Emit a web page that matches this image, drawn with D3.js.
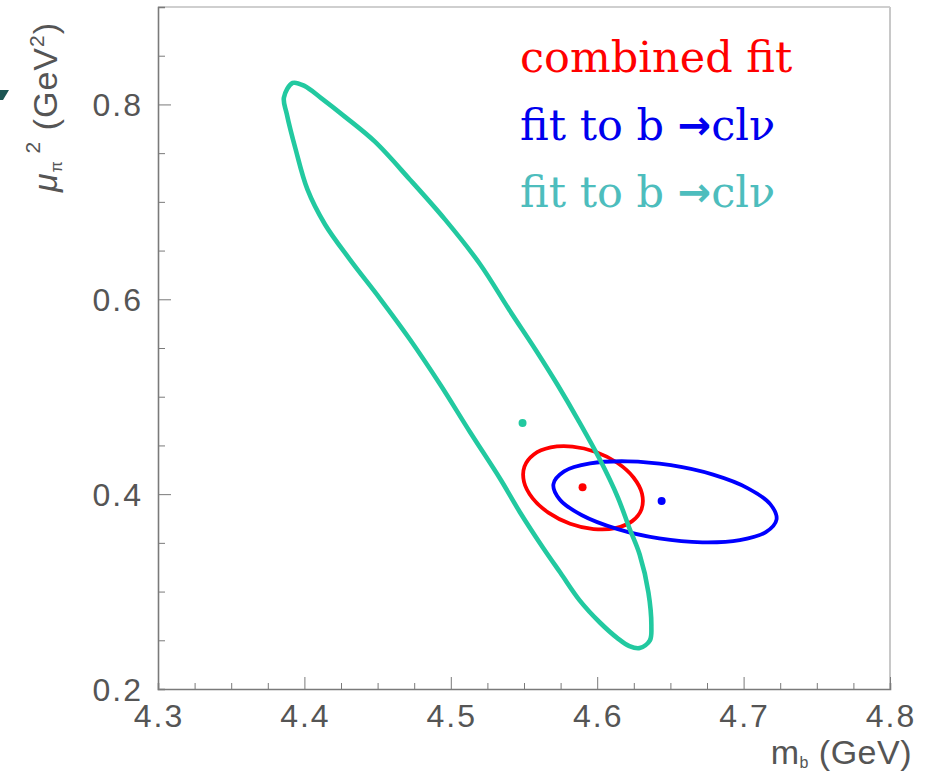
<!DOCTYPE html>
<html>
<head>
<meta charset="utf-8">
<script src="https://cdn.jsdelivr.net/npm/d3@7"></script>
<style>
  html, body { margin: 0; padding: 0; background: #fff; }
  svg { display: block; }
</style>
</head>
<body>
<svg id="chart" width="930" height="773"></svg>
<script>
// Axis ranges and tick labels
const xDomain = [4.3, 4.8];
const yDomain = [0.2, 0.9];
const xTickLabels = [4.3, 4.4, 4.5, 4.6, 4.7, 4.8];
const yTickLabels = [0.2, 0.4, 0.6, 0.8];

// Contour of the fit to b -> c l nu (teal), as [m_b, mu_pi^2]
const tealContour = [
  [4.392, 0.822], [4.400, 0.819], [4.411, 0.807], [4.428, 0.787], [4.448, 0.762],
  [4.472, 0.723], [4.496, 0.682], [4.520, 0.636], [4.540, 0.589], [4.558, 0.548],
  [4.573, 0.512], [4.587, 0.476], [4.602, 0.435], [4.614, 0.397], [4.622, 0.365],
  [4.629, 0.338], [4.635, 0.299], [4.637, 0.264], [4.636, 0.250], [4.629, 0.242],
  [4.622, 0.244], [4.614, 0.252], [4.602, 0.268], [4.588, 0.291], [4.575, 0.319],
  [4.563, 0.345], [4.547, 0.382], [4.534, 0.415], [4.513, 0.464], [4.493, 0.512],
  [4.472, 0.559], [4.452, 0.600], [4.431, 0.641], [4.414, 0.677], [4.402, 0.713],
  [4.394, 0.754], [4.388, 0.790], [4.386, 0.807]
];
const tealCenter = [4.549, 0.473];

// Contour of the fit to b -> c l nu (blue)
const blueContour = [
  [4.7225, 0.3740], [4.7152, 0.3610], [4.6974, 0.3528], [4.6718, 0.3505],
  [4.6423, 0.3545], [4.6135, 0.3643], [4.5896, 0.3783], [4.5744, 0.3945],
  [4.5701, 0.4102], [4.5774, 0.4233], [4.5952, 0.4315], [4.6208, 0.4337],
  [4.6503, 0.4297], [4.6792, 0.4200], [4.7030, 0.4060], [4.7182, 0.3898]
];
const blueCenter = [4.644, 0.393];

// Contour of the combined fit (red)
const redContour = [
  [4.6303, 0.3847], [4.6239, 0.3723], [4.6124, 0.3651], [4.5975, 0.3642],
  [4.5815, 0.3697], [4.5669, 0.3808], [4.5558, 0.3959], [4.5500, 0.4126],
  [4.5503, 0.4283], [4.5567, 0.4407], [4.5682, 0.4479], [4.5831, 0.4488],
  [4.5991, 0.4433], [4.6137, 0.4322], [4.6248, 0.4171], [4.6306, 0.4005]
];
const redCenter = [4.590, 0.407];

// Legend entries
const legendEntries = [
  { label: "combined fit", arrow: false, color: "#ff0000" },
  { label: "fit to b ", arrow: true, color: "#0000ee" },
  { label: "fit to b ", arrow: true, color: "#4dbdbd" }
];

const svg = d3.select("#chart");
const plotLeft = 158, plotRight = 890, plotTop = 7, plotBottom = 689;

const x = d3.scaleLinear().domain(xDomain).range([plotLeft, plotRight]);
const y = d3.scaleLinear().domain(yDomain).range([plotBottom, plotTop]);

// Frame: light top/right, darker left/bottom
svg.append("line").attr("x1", plotLeft).attr("x2", plotRight).attr("y1", plotTop).attr("y2", plotTop)
  .attr("stroke", "#cfcfcf").attr("stroke-width", 2);
svg.append("line").attr("x1", plotRight).attr("x2", plotRight).attr("y1", plotTop).attr("y2", plotBottom)
  .attr("stroke", "#c8c8c8").attr("stroke-width", 2);

const axisColor = "#7a7a7a";
const labelFont = "'Liberation Sans', Arial, sans-serif";
const labelColor = "#555555";

// X axis (ticks point inward)
const xMinor = d3.range(0, 21).map(i => 4.3 + i * 0.025);
const xAxis = d3.axisBottom(x).tickValues(xMinor).tickSize(-6).tickFormat("");
const gx = svg.append("g").attr("transform", `translate(0,${plotBottom})`).call(xAxis);
gx.select(".domain").attr("stroke", axisColor).attr("stroke-width", 1.6);
gx.selectAll(".tick line").attr("stroke", axisColor).attr("stroke-width", 1)
  .attr("y2", d => (Math.abs(d * 10 - Math.round(d * 10)) < 1e-6 ? -12 : -6));

svg.append("g").selectAll("text").data(xTickLabels).join("text")
  .attr("x", d => x(d) + 1).attr("y", 727)
  .attr("text-anchor", "middle")
  .attr("font-family", labelFont).attr("font-size", 32).attr("letter-spacing", 2)
  .attr("fill", labelColor)
  .text(d => d.toFixed(1));

// Y axis (ticks point inward)
const yMinor = d3.range(0, 15).map(i => 0.2 + i * 0.05);
const yAxis = d3.axisLeft(y).tickValues(yMinor).tickSize(-7).tickFormat("");
const gy = svg.append("g").attr("transform", `translate(${plotLeft},0)`).call(yAxis);
gy.select(".domain").attr("stroke", axisColor).attr("stroke-width", 1.6);
gy.selectAll(".tick line").attr("stroke", axisColor).attr("stroke-width", 1)
  .attr("x2", d => (Math.abs(d * 5 - Math.round(d * 5)) < 1e-6 ? 13 : 7));

svg.append("g").selectAll("text").data(yTickLabels).join("text")
  .attr("x", 143).attr("y", d => y(d) + 12)
  .attr("text-anchor", "end")
  .attr("font-family", labelFont).attr("font-size", 32).attr("letter-spacing", 2)
  .attr("fill", labelColor)
  .text(d => d.toFixed(1));

// Axis titles
const xt = svg.append("text")
  .attr("x", 912).attr("y", 764).attr("text-anchor", "end")
  .attr("font-family", labelFont).attr("font-size", 34).attr("letter-spacing", 0.5)
  .attr("fill", labelColor);
xt.append("tspan").text("m");
xt.append("tspan").attr("font-size", 16).attr("dy", 4).text("b");
xt.append("tspan").attr("dy", -4).text(" (GeV)");

const yt = svg.append("text")
  .attr("transform", "translate(57,192) rotate(-90)")
  .attr("text-anchor", "start")
  .attr("font-family", labelFont).attr("font-size", 34).attr("letter-spacing", 1)
  .attr("fill", labelColor);
yt.append("tspan").attr("font-style", "italic").text("μ");
yt.append("tspan").attr("font-size", 16).attr("dy", 5).text("π");
yt.append("tspan").attr("font-size", 21).attr("dy", -22).text(" 2");
yt.append("tspan").attr("dy", 17).text(" (GeV");
yt.append("tspan").attr("font-size", 21).attr("dy", -13).text("2");
yt.append("tspan").attr("dy", 13).text(")");

// Small dark mark at the left edge
svg.append("path")
  .attr("d", "M0,90 L9,90 L3,100 L0,100 Z")
  .attr("fill", "#1d5654");

// Contours
const line = d3.line().x(d => x(d[0])).y(d => y(d[1])).curve(d3.curveCatmullRomClosed.alpha(0.5));

svg.append("path").datum(redContour).attr("d", line)
  .attr("fill", "none").attr("stroke", "#ff0000").attr("stroke-width", 3.8);
svg.append("path").datum(blueContour).attr("d", line)
  .attr("fill", "none").attr("stroke", "#0000ff").attr("stroke-width", 3.8);
svg.append("path").datum(tealContour).attr("d", line)
  .attr("fill", "none").attr("stroke", "#22c9a0").attr("stroke-width", 4.6)
  .attr("stroke-linejoin", "round");

// Best-fit points
const centers = [
  { p: redCenter, c: "#ff0000" },
  { p: blueCenter, c: "#0000ff" },
  { p: tealCenter, c: "#22c9a0" }
];
svg.append("g").selectAll("circle").data(centers).join("circle")
  .attr("cx", d => x(d.p[0])).attr("cy", d => y(d.p[1])).attr("r", 4)
  .attr("fill", d => d.c);

// Legend
const legend = svg.append("g");
legendEntries.forEach((e, i) => {
  const t = legend.append("text")
    .attr("x", 520).attr("y", 72 + i * 67.5)
    .attr("font-family", "'DejaVu Serif', serif").attr("font-size", 43)
    .attr("fill", e.color);
  t.append("tspan").text(e.label);
  if (e.arrow) {
    t.append("tspan").attr("font-family", "'DejaVu Sans', sans-serif")
      .attr("font-weight", "bold").attr("font-size", 40).attr("dy", -1).text("→");
    t.append("tspan").attr("dy", 1).text("clν");
  }
});
</script>
</body>
</html>
